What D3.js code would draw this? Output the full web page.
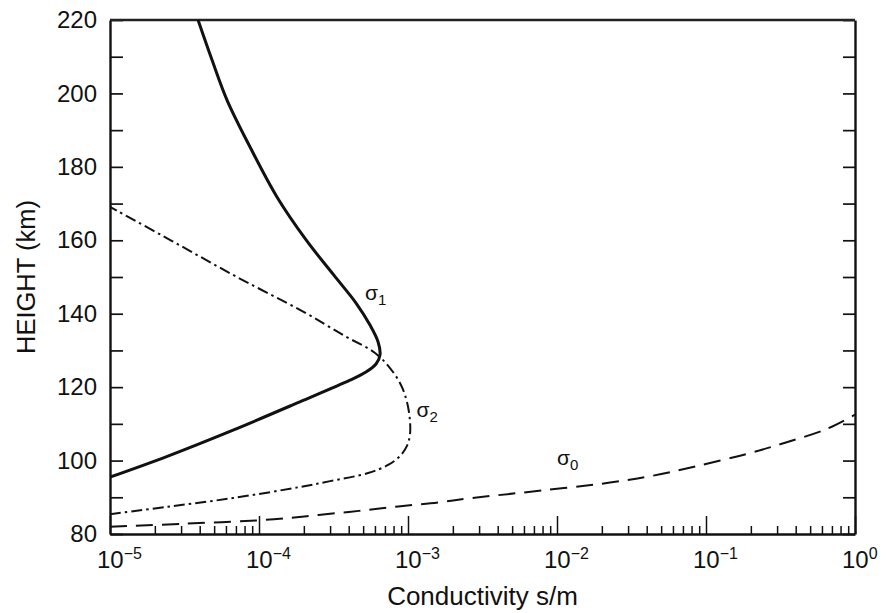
<!DOCTYPE html>
<html>
<head>
<meta charset="utf-8">
<script src="https://cdn.jsdelivr.net/npm/d3@7"></script>
<style>
  html, body { margin: 0; padding: 0; background: #fff; }
  svg { display: block; font-family: "Liberation Sans", Arial, Helvetica, sans-serif; }
  .axis path, .axis line { stroke: #111; }
  .axis text { fill: #111; }
</style>
</head>
<body>
<svg id="chart" width="889" height="613"></svg>
<script>
// Conductivity profiles versus height (km); conductivity in s/m
const sigma1Height = [95.5, 101.1, 108.3, 116.0, 121.9, 124.1, 126.3, 128.8, 132.3, 136.9, 142.9, 150.5, 160.1, 171.8, 185.4, 198.2, 209.1, 220];
const sigma1Cond   = [1.0e-5, 2.40e-5, 6.70e-5, 1.88e-4, 4.08e-4, 5.22e-4, 6.10e-4, 6.49e-4, 6.30e-4, 5.56e-4, 4.48e-4, 3.18e-4, 2.07e-4, 1.32e-4, 8.71e-5, 6.10e-5, 4.84e-5, 3.90e-5];

const sigma2Height = [85.4, 87.4, 89.8, 92.8, 94.4, 96.6, 98.8, 101.2, 104.0, 107.0, 111.0, 116.0, 120.6, 125.2, 129.3, 133.9, 140.7, 150.0, 159.8, 169.1];
const sigma2Cond   = [1.0e-5, 2.42e-5, 6.70e-5, 1.88e-4, 3.00e-4, 5.40e-4, 7.35e-4, 8.83e-4, 9.84e-4, 1.03e-3, 1.03e-3, 9.84e-4, 8.97e-4, 7.57e-4, 6.01e-4, 3.78e-4, 1.95e-4, 7.11e-5, 2.61e-5, 1.0e-5];

const sigma0Height = [82.0, 82.8, 84.0, 85.2, 86.3, 87.5, 88.6, 89.8, 91.2, 94.0, 95.9, 98.5, 101.8, 105.0, 108.6, 112.5];
const sigma0Cond   = [1.0e-5, 3.16e-5, 1.26e-4, 2.51e-4, 4.68e-4, 8.61e-4, 1.6e-3, 2.67e-3, 5.62e-3, 2.27e-2, 4.43e-2, 8.65e-2, 0.1875, 0.348, 0.646, 1.0];

// Axis ticks
const xDecades = [1e-5, 1e-4, 1e-3, 1e-2, 1e-1, 1e0];
const xDecadeExponents = ["−5", "−4", "−3", "−2", "−1", "0"];
const yTicks = [80, 90, 100, 110, 120, 130, 140, 150, 160, 170, 180, 190, 200, 210, 220];
const yLabelTicks = [80, 100, 120, 140, 160, 180, 200, 220];

const svg = d3.select("#chart");
const margin = { left: 110, right: 34, top: 20, bottom: 79 };
const W = 889, H = 613;
const x = d3.scaleLog().domain([1e-5, 1]).range([margin.left, W - margin.right]);
const y = d3.scaleLinear().domain([80, 220]).range([H - margin.bottom, margin.top]);

// minor log ticks (2..9 within each decade)
const xMinor = [];
xDecades.slice(0, -1).forEach(d => { for (let k = 2; k <= 9; k++) xMinor.push(d * k); });

const x0 = x.range()[0], x1 = x.range()[1], y0 = y.range()[0], y1 = y.range()[1];

// bottom axis: major and minor ticks pointing inward
svg.append("g").attr("class", "axis")
  .attr("transform", `translate(0,${y0})`)
  .call(d3.axisBottom(x).tickValues(xMinor).tickSize(-8).tickSizeOuter(0).tickFormat(""))
  .call(g => g.selectAll("line").attr("stroke-width", 1.5))
  .call(g => g.select(".domain").attr("stroke-width", 2.4));
svg.append("g").attr("class", "axis")
  .attr("transform", `translate(0,${y0})`)
  .call(d3.axisBottom(x).tickValues(xDecades).tickSize(-18).tickSizeOuter(0).tickFormat(""))
  .call(g => g.selectAll("line").attr("stroke-width", 1.5))
  .call(g => g.select(".domain").remove());

// decade labels 10^n
const xl = svg.append("g").attr("font-size", 24).attr("fill", "#111");
xDecades.forEach((d, i) => {
  const t = xl.append("text").attr("x", x(d) - 13).attr("y", y0 + 34);
  t.append("tspan").text("10");
  t.append("tspan").attr("dy", -9).attr("font-size", 16).text(xDecadeExponents[i]);
});

// left axis
svg.append("g").attr("class", "axis")
  .attr("transform", `translate(${x0},0)`)
  .call(d3.axisLeft(y).tickValues(yTicks).tickSize(-13).tickSizeOuter(0).tickPadding(13)
    .tickFormat(d => yLabelTicks.includes(d) ? d : ""))
  .call(g => g.selectAll("line").attr("stroke-width", 1.7))
  .call(g => g.select(".domain").attr("stroke-width", 2.4))
  .call(g => g.selectAll("text").attr("font-size", 24).attr("font-family", null));

// right axis
svg.append("g").attr("class", "axis")
  .attr("transform", `translate(${x1},0)`)
  .call(d3.axisRight(y).tickValues(yTicks).tickSize(-12).tickSizeOuter(0).tickFormat(""))
  .call(g => g.selectAll("line").attr("stroke-width", 1.7))
  .call(g => g.select(".domain").attr("stroke-width", 2.4));

// top frame line
svg.append("line")
  .attr("x1", x0).attr("x2", x1).attr("y1", y1).attr("y2", y1)
  .attr("stroke", "#222").attr("stroke-width", 2.6);

// axis titles
svg.append("text")
  .attr("x", (x0 + x1) / 2).attr("y", 605)
  .attr("text-anchor", "middle").attr("font-size", 26).attr("fill", "#111")
  .text("Conductivity s/m");
svg.append("text")
  .attr("transform", `translate(35,${(y0 + y1) / 2}) rotate(-90)`)
  .attr("text-anchor", "middle").attr("font-size", 25.5).attr("fill", "#111")
  .text("HEIGHT (km)");

// curves
svg.append("clipPath").attr("id", "plot")
  .append("rect").attr("x", x0).attr("y", y1).attr("width", x1 - x0).attr("height", y0 - y1);

const toPts = (hs, cs) => hs.map((h, i) => ({ h, c: cs[i] }));
const line = d3.line().x(d => x(d.c)).y(d => y(d.h)).curve(d3.curveCatmullRom.alpha(0.5));
const curves = svg.append("g").attr("clip-path", "url(#plot)").attr("fill", "none").attr("stroke", "#111");

curves.append("path").datum(toPts(sigma0Height, sigma0Cond))
  .attr("d", line).attr("stroke-width", 2).attr("stroke-dasharray", "17,9");
curves.append("path").datum(toPts(sigma2Height, sigma2Cond))
  .attr("d", line).attr("stroke-width", 2).attr("stroke-dasharray", "11,4,2.5,4");
curves.append("path").datum(toPts(sigma1Height, sigma1Cond))
  .attr("d", line).attr("stroke-width", 3);

// curve labels
function sigmaLabel(c, h, sub) {
  const t = svg.append("text").attr("x", x(c)).attr("y", y(h)).attr("font-size", 21).attr("fill", "#111");
  t.append("tspan").text("σ");
  t.append("tspan").attr("dy", 5).attr("font-size", 15).text(sub);
}
sigmaLabel(5.14e-4, 143.7, "1");
sigmaLabel(1.14e-3, 111.9, "2");
sigmaLabel(1.0e-2, 98.8, "0");
</script>
</body>
</html>
